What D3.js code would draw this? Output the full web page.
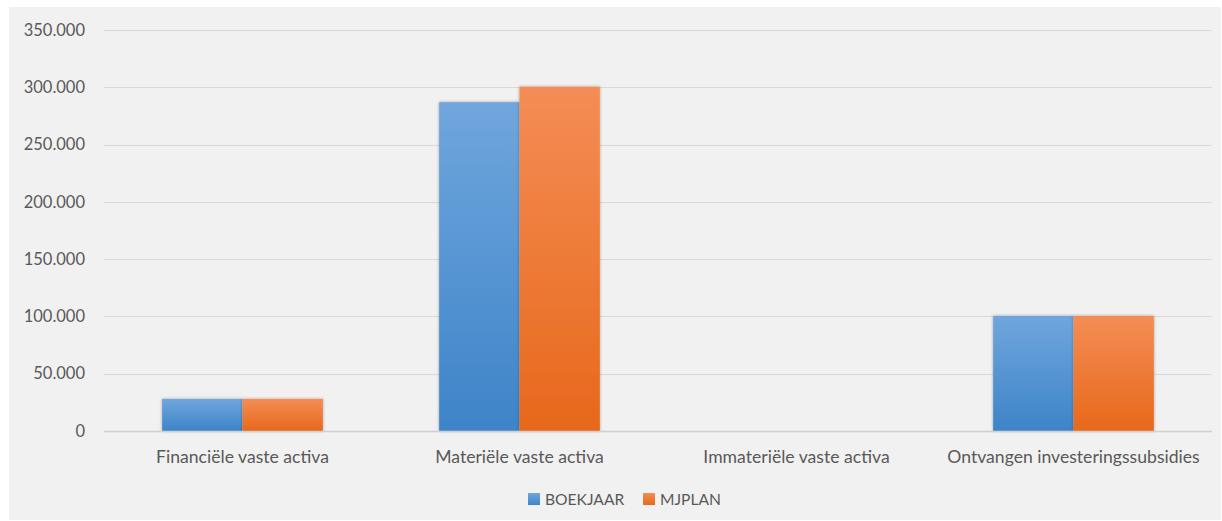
<!DOCTYPE html>
<html>
<head>
<meta charset="utf-8">
<script src="https://cdn.jsdelivr.net/npm/d3@7"></script>
<style>
  body { margin: 0; background: #fff; }
  svg { display: block; }
  text { font-family: Lato, "Open Sans", sans-serif; fill: #595959; }
</style>
</head>
<body>
<svg id="chart"></svg>
<script>
// chart data
var categories = ["Financiële vaste activa", "Materiële vaste activa", "Immateriële vaste activa", "Ontvangen investeringssubsidies"]
var series = ["BOEKJAAR", "MJPLAN"]
var boekjaar = [28000, 287000, 0, 100500]
var mjplan = [28000, 300500, 0, 100500]
var yTicks = [0, 50000, 100000, 150000, 200000, 250000, 300000, 350000]

var dimensions = {
  width: 1222,
  height: 521,
  margin: { top: 30, bottom: 90, right: 10, left: 104 }
}

var svg = d3.select("#chart")
  .attr("width", dimensions.width)
  .attr("height", dimensions.height)

var defs = svg.append("defs")

// gradients for the bars, light on top and darker at the bottom
var grads = [["gradBlue", "#70a6dd", "#3d84c8"], ["gradOrange", "#f48d55", "#e7681b"]]
grads.forEach(function(g) {
  var lg = defs.append("linearGradient")
    .attr("id", g[0])
    .attr("x1", 0).attr("y1", 0).attr("x2", 0).attr("y2", 1)
  lg.append("stop").attr("offset", "0%").attr("stop-color", g[1])
  lg.append("stop").attr("offset", "100%").attr("stop-color", g[2])
})

var shadow = defs.append("filter").attr("id", "shadow")
  .attr("x", "-10%").attr("y", "-10%").attr("width", "130%").attr("height", "130%")
shadow.append("feDropShadow")
  .attr("dx", 0).attr("dy", 0).attr("stdDeviation", 1.5)
  .attr("flood-color", "#000").attr("flood-opacity", 0.35)

// background panel
svg.append("rect")
  .attr("x", 9).attr("y", 7)
  .attr("width", 1212).attr("height", 513)
  .attr("fill", "#f1f1f1")

var x0 = d3.scaleBand()
  .domain(categories)
  .range([dimensions.margin.left, 1212])
  .paddingInner(0.42)
  .paddingOuter(0.21)

var x1 = d3.scaleBand()
  .domain(series)
  .range([0, x0.bandwidth()])

var y = d3.scaleLinear()
  .domain([0, 350000])
  .range([431, 30])

var fmt = function(v) { return v === 0 ? "0" : d3.format(",")(v).replace(/,/g, ".") }

// gridlines
svg.append("g")
  .selectAll("line")
  .data(yTicks.filter(function(t) { return t > 0 }))
  .join("line")
  .attr("x1", dimensions.margin.left)
  .attr("x2", 1212)
  .attr("y1", function(d) { return Math.round(y(d)) + 0.5 })
  .attr("y2", function(d) { return Math.round(y(d)) + 0.5 })
  .attr("stroke", "#d9d9d9")
  .attr("stroke-width", 1.2)

// y tick labels
svg.append("g")
  .selectAll("text")
  .data(yTicks)
  .join("text")
  .attr("x", 85)
  .attr("y", function(d) { return y(d) })
  .attr("dy", "0.35em")
  .attr("text-anchor", "end")
  .style("font-size", "16.5px")
  .text(fmt)

// bars
var table = categories.map(function(c, i) {
  return { cat: c, values: [{ s: "BOEKJAAR", v: boekjaar[i] }, { s: "MJPLAN", v: mjplan[i] }] }
})

var groups = svg.append("g")
  .selectAll("g")
  .data(table)
  .join("g")
  .attr("transform", function(d) { return "translate(" + x0(d.cat) + ",0)" })

groups.selectAll("rect")
  .data(function(d) { return d.values.filter(function(v) { return v.v > 0 }) })
  .join("rect")
  .attr("x", function(d) { return x1(d.s) })
  .attr("width", x1.bandwidth())
  .attr("y", function(d) { return y(d.v) })
  .attr("height", function(d) { return y(0) - y(d.v) })
  .attr("fill", function(d) { return d.s === "BOEKJAAR" ? "url(#gradBlue)" : "url(#gradOrange)" })
  .attr("filter", "url(#shadow)")

// baseline
svg.append("line")
  .attr("x1", dimensions.margin.left)
  .attr("x2", 1212)
  .attr("y1", Math.round(y(0)) + 0.5)
  .attr("y2", Math.round(y(0)) + 0.5)
  .attr("stroke", "#d0d0d0")
  .attr("stroke-width", 1.5)

// category labels
svg.append("g")
  .selectAll("text")
  .data(categories)
  .join("text")
  .attr("x", function(d) { return x0(d) + x0.bandwidth() / 2 })
  .attr("y", 463)
  .attr("text-anchor", "middle")
  .style("font-size", "17.6px")
  .text(function(d) { return d })

// legend
var legendX = [528, 643]
var legend = svg.append("g")
  .selectAll("g")
  .data(series)
  .join("g")
  .attr("transform", function(d, i) { return "translate(" + legendX[i] + ",493)" })

legend.append("rect")
  .attr("width", 12).attr("height", 12)
  .attr("fill", function(d) { return d === "BOEKJAAR" ? "url(#gradBlue)" : "url(#gradOrange)" })

legend.append("text")
  .attr("x", 17)
  .attr("y", 11.5)
  .style("font-size", "15.6px")
  .text(function(d) { return d })
</script>
</body>
</html>
